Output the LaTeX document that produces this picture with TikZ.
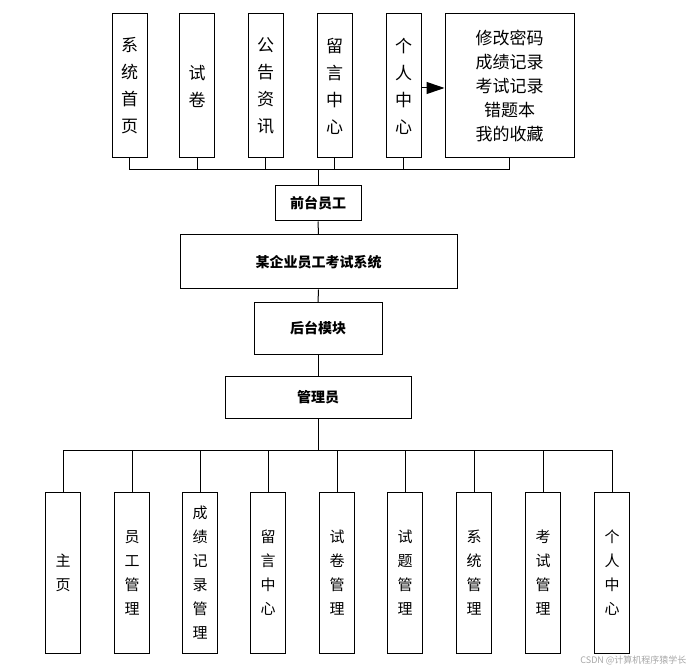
\documentclass[tikz,border=0pt]{standalone}
\usepackage{fontspec}
\newfontfamily\cjk{Noto Sans CJK SC}
\usetikzlibrary{arrows.meta}
\begin{document}
\begin{tikzpicture}[x=1pt,y=-1pt,
 bx/.style={draw,line width=1pt,inner sep=0pt,font=\cjk},
 vt/.style={align=center,font=\cjk\fontsize{17}{27}\selectfont},
 vb/.style={align=center,font=\cjk\fontsize{15}{24}\selectfont},
 mid/.style={bx,font=\cjk\bfseries\fontsize{14}{16}\selectfont},
 ln/.style={line width=1pt}]
\useasboundingbox (0,0) rectangle (694,671);
% top boxes
\foreach \n/\x/\t in {t1/129.5/系\\统\\首\\页, t2/197/试\\卷, t3/265.5/公\\告\\资\\讯, t4/334.5/留\\言\\中\\心, t5/403.5/个\\人\\中\\心}{
 \node[bx,minimum width=35pt,minimum height=144pt] (\n) at (\x,86) {};
 \node[vt] at (\n) {\t};
}
\node[bx,minimum width=129pt,minimum height=144pt] (t6) at (509.5,86) {};
\node[vt,font=\cjk\fontsize{17}{24}\selectfont] at (t6) {修改密码\\成绩记录\\考试记录\\错题本\\我的收藏};
\draw[ln,-{Triangle[length=18pt,width=12pt]}] (t5.east|-0,88) -- (t6.west|-0,88);
\coordinate (bus) at (318,170);
\draw[ln] (t1.south) -- (t1.south|-bus) -- (t6.south|-bus) -- (t6.south);
\foreach \n in {t2,t3,t4,t5} \draw[ln] (\n.south) -- (\n.south|-bus);
\node[mid,minimum width=86pt,minimum height=35pt] (qt) at (318,203.5) {前台员工};
\draw[ln] (bus) -- (qt.north);
\node[mid,minimum width=277pt,minimum height=54pt] (sys) at (318.5,262) {某企业员工考试系统};
\draw[ln] (qt.south) -- (sys.north);
\node[mid,minimum width=128pt,minimum height=51pt] (ht) at (318,328.5) {后台模块};
\draw[ln] (sys.south) -- (ht.north);
\node[mid,minimum width=186pt,minimum height=42pt] (adm) at (318,397) {管理员};
\draw[ln] (ht.south) -- (adm.north);
\coordinate (bus2) at (318,450);
\draw[ln] (adm.south) -- (bus2);
\foreach \n/\x/\t in {b1/63/主\\页, b2/132/员\\工\\管\\理, b3/200/成\\绩\\记\\录\\管\\理, b4/268/留\\言\\中\\心, b5/337/试\\卷\\管\\理, b6/405/试\\题\\管\\理, b7/474/系\\统\\管\\理, b8/543/考\\试\\管\\理, b9/612/个\\人\\中\\心}{
 \node[bx,minimum width=35pt,minimum height=161pt] (\n) at (\x,572.5) {};
 \node[vb] at (\n) {\t};
 \draw[ln] (\n.north) -- (\n.north|-bus2);
}
\draw[ln] (b1.north|-bus2) -- (b9.north|-bus2);
\node[font=\cjk\fontsize{9}{10}\selectfont,text=gray!70,anchor=east] (wm) at (690,660) {CSDN @计算机程序猿学长};
\end{tikzpicture}
\end{document}
